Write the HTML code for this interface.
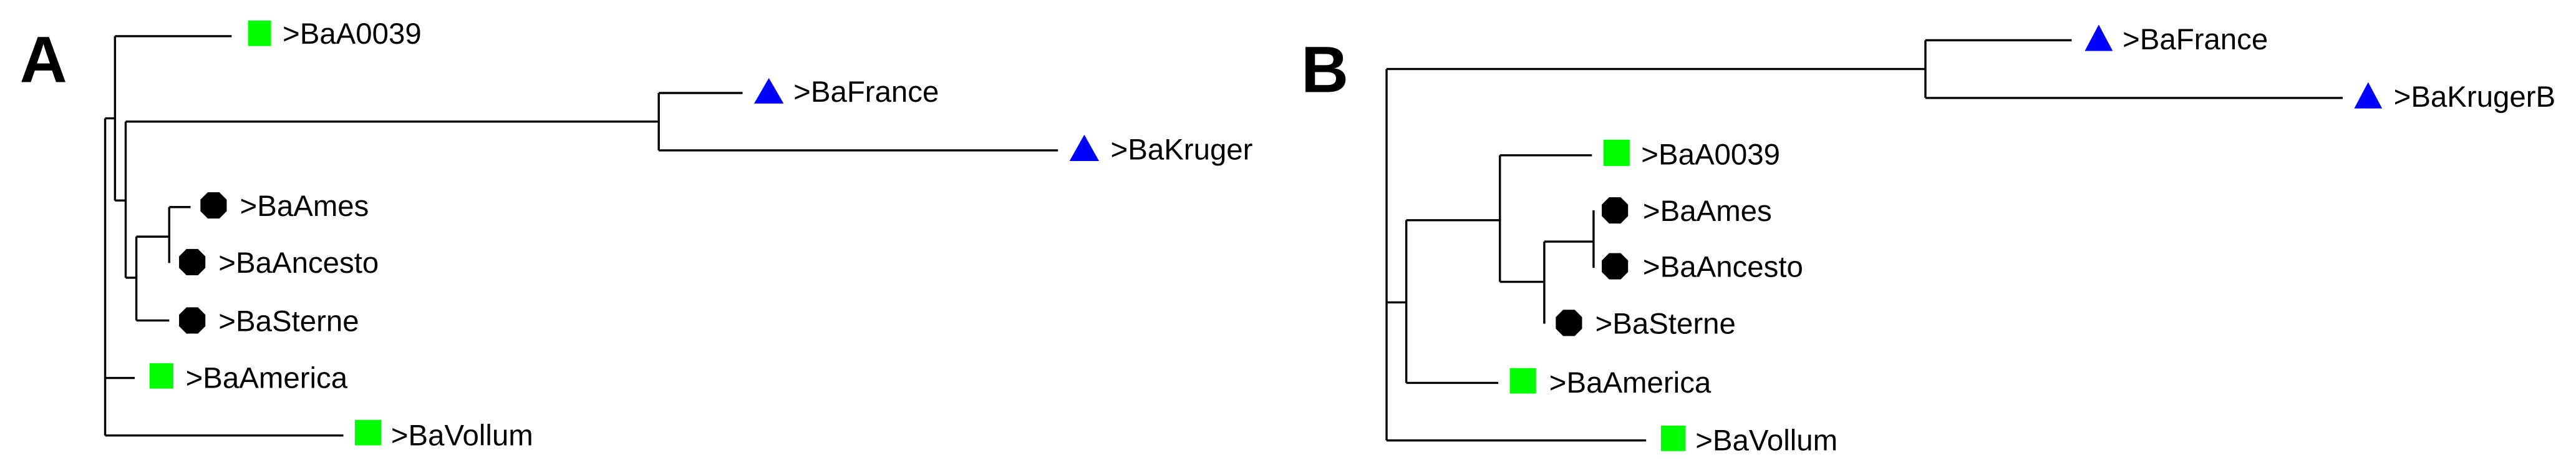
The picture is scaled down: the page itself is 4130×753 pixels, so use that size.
<!DOCTYPE html>
<html><head><meta charset="utf-8"><style>
html,body{margin:0;padding:0;background:#fff;}
svg{display:block;}
text{font-family:"Liberation Sans",sans-serif;font-size:18px;fill:#000;}
</style></head><body>
<svg width="4130" height="753" viewBox="0 0 1568 286" preserveAspectRatio="none" xmlns="http://www.w3.org/2000/svg">
<rect width="1568" height="286" fill="#fff"/>
<defs>
<polygon id="oct" points="-3.5,-8 3.5,-8 8,-3.5 8,3.5 3.5,8 -3.5,8 -8,3.5 -8,-3.5" fill="#000"/>
</defs>
<g stroke="#000" stroke-width="1.3" fill="none">
<!-- Panel A -->
<path d="M64,72 V265 M64,72 H70 M70,22 V122 M70,22 H141 M70,122 H76.5 M76.5,74 V169 M76.5,74 H401 M401,56.6 V91.5 M401,56.6 H452 M401,91.5 H644 M76.5,169 H83 M83,144 V195 M83,144 H103 M103,126 V160 M103,126 H116 M83,195 H103 M64,230 H82 M64,265 H209"/>
<!-- Panel B -->
<path d="M844,42 V268 M844,42 H1172 M1172,24.5 V59.6 M1172,24.5 H1261 M1172,59.6 H1426 M844,184 H856 M856,134 V233 M856,134 H913 M913,94.5 V171.5 M913,94.5 H969 M913,171.5 H940 M940,147 V197 M940,147 H970 M970,128 V163 M856,233 H912 M844,268 H1002"/>
</g>
<text x="12" y="50" style="font-size:40px;font-weight:bold">A</text>
<text x="792" y="56" style="font-size:40px;font-weight:bold">B</text>
<!-- A markers -->
<rect x="151" y="12.5" width="14" height="15.5" fill="#00ff00"/>
<text x="172" y="26.5">&gt;BaA0039</text>
<polygon points="468,47.5 459,63 477,63" fill="#0000ff"/>
<text x="483" y="62">&gt;BaFrance</text>
<polygon points="660,82 651,98 669,98" fill="#0000ff"/>
<text x="676" y="97">&gt;BaKruger</text>
<use href="#oct" x="130" y="125"/>
<text x="146" y="131.5">&gt;BaAmes</text>
<use href="#oct" x="117" y="159.5"/>
<text x="133" y="166">&gt;BaAncesto</text>
<use href="#oct" x="117" y="195"/>
<text x="133" y="201.5">&gt;BaSterne</text>
<rect x="91" y="221" width="14.5" height="15.5" fill="#00ff00"/>
<text x="113" y="236">&gt;BaAmerica</text>
<rect x="216" y="255.5" width="16" height="15.5" fill="#00ff00"/>
<text x="238" y="271">&gt;BaVollum</text>
<!-- B markers -->
<polygon points="1277.5,15 1269,31 1286,31" fill="#0000ff"/>
<text x="1292" y="30">&gt;BaFrance</text>
<polygon points="1441.5,50 1433,66 1450,66" fill="#0000ff"/>
<text x="1457" y="65">&gt;BaKrugerB</text>
<rect x="976" y="85" width="16" height="16" fill="#00ff00"/>
<text x="999" y="100">&gt;BaA0039</text>
<use href="#oct" x="983" y="128"/>
<text x="1000" y="134.5">&gt;BaAmes</text>
<use href="#oct" x="983" y="162"/>
<text x="1000" y="168.5">&gt;BaAncesto</text>
<use href="#oct" x="955" y="196.5"/>
<text x="971" y="203">&gt;BaSterne</text>
<rect x="919" y="224" width="16" height="15.5" fill="#00ff00"/>
<text x="943" y="239">&gt;BaAmerica</text>
<rect x="1011" y="259" width="15" height="15.5" fill="#00ff00"/>
<text x="1032" y="274">&gt;BaVollum</text>
</svg>
</body></html>
